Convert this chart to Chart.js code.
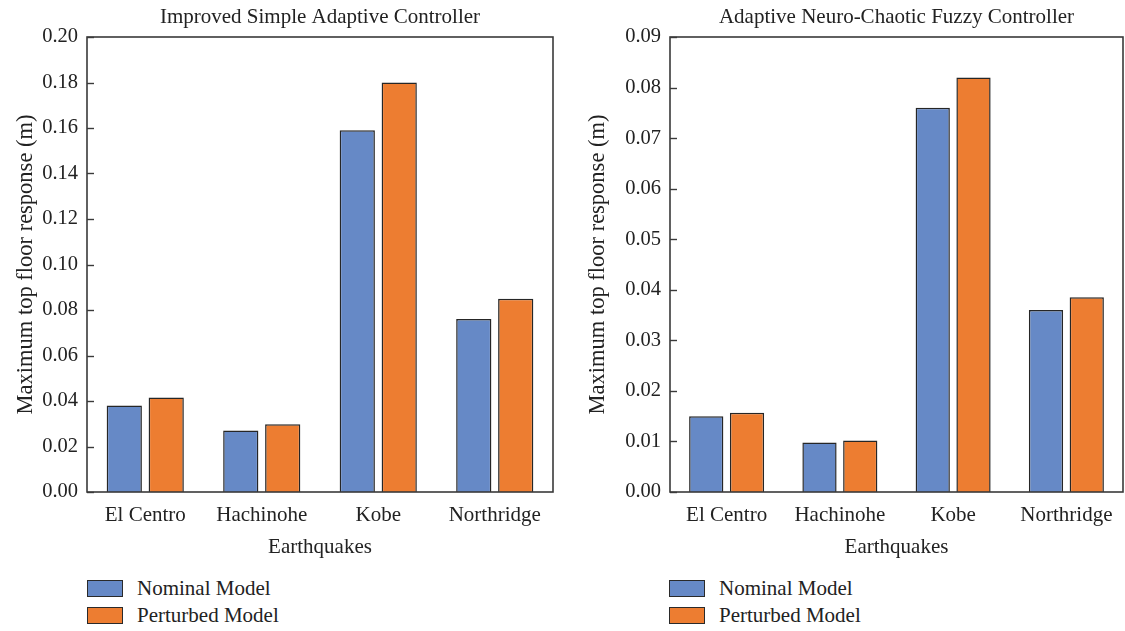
<!DOCTYPE html>
<html>
<head>
<meta charset="utf-8">
<script src="https://cdn.jsdelivr.net/npm/chart.js@4.4.1/dist/chart.umd.min.js"></script>
<style>
  html, body { margin: 0; padding: 0; background: #fff; width: 1125px; height: 631px; overflow: hidden; }
  .wrap { position: absolute; top: 0; height: 560px; }
  .legend { position: absolute; font-family: "Liberation Serif", "DejaVu Serif", serif; font-size: 21px; color: #222; }
  .legend .item { position: absolute; left: 0; white-space: nowrap; height: 20px; line-height: 20px; }
  .legend .box { position: absolute; left: 0; top: 2px; width: 34px; height: 15px; border: 1.5px solid #2a2a2a; }
  .legend .lbl { position: absolute; left: 50px; top: 0; }
</style>
</head>
<body>
<div class="wrap" style="left:0;width:560px;"><canvas id="c1" width="560" height="560"></canvas></div>
<div class="wrap" style="left:563px;width:562px;"><canvas id="c2" width="562" height="560"></canvas></div>
<div class="legend" id="lg1" style="left:87px;top:578px;"></div>
<div class="legend" id="lg2" style="left:669px;top:578px;"></div>
<script>
// ---- data ----
const categories = ["El Centro", "Hachinohe", "Kobe", "Northridge"];
const seriesNames = ["Nominal Model", "Perturbed Model"];
const isacNominal = [0.038, 0.027, 0.159, 0.076];
const isacPerturbed = [0.0415, 0.0298, 0.180, 0.085];
const ancfcNominal = [0.0150, 0.0098, 0.0760, 0.0360];
const ancfcPerturbed = [0.0157, 0.0102, 0.0820, 0.0385];
const titles = ["Improved Simple Adaptive Controller", "Adaptive Neuro-Chaotic Fuzzy Controller"];
const yAxisTitle = "Maximum top floor response (m)";
const xAxisTitle = "Earthquakes";
const yMaxes = [0.20, 0.09];
const ySteps = [0.02, 0.01];

const colors = ["#6689C6", "#ED7D31"];
const FONT = '"Liberation Serif", "DejaVu Serif", serif';
const TXT = "#222";

const framePlugin = {
  id: "frame",
  afterDatasetsDraw(chart, args, opts) {
    const ctx = chart.ctx, a = chart.chartArea;
    ctx.save();
    ctx.strokeStyle = "#3a3a3a";
    ctx.lineWidth = 1.6;
    ctx.strokeRect(a.left, a.top, a.right - a.left, a.bottom - a.top);
    const ys = chart.scales.y;
    ctx.lineWidth = 1.4;
    ys.ticks.forEach(t => {
      const py = Math.round(ys.getPixelForValue(t.value)) + 0.5;
      ctx.beginPath();
      ctx.moveTo(a.left, py);
      ctx.lineTo(a.left + 7, py);
      ctx.stroke();
    });
    ctx.restore();
  },
  afterDraw(chart, args, opts) {
    const ctx = chart.ctx, a = chart.chartArea;
    ctx.save();
    ctx.fillStyle = TXT;
    ctx.font = "21px " + FONT;
    ctx.textAlign = "center";
    ctx.textBaseline = "middle";
    ctx.fillText(opts.text, (a.left + a.right) / 2, 17);
    ctx.restore();
  }
};

function makeChart(id, idx, nominal, perturbed, yWidth, padRight, titlePad) {
  return new Chart(document.getElementById(id), {
    type: "bar",
    data: {
      labels: categories,
      datasets: [
        { label: seriesNames[0], data: nominal, backgroundColor: colors[0], borderColor: "#262626", borderWidth: 1.5 },
        { label: seriesNames[1], data: perturbed, backgroundColor: colors[1], borderColor: "#262626", borderWidth: 1.5 }
      ]
    },
    options: {
      responsive: false,
      animation: false,
      devicePixelRatio: 1,
      datasets: { bar: { categoryPercentage: 0.72, barPercentage: 0.84 } },
      layout: { padding: { top: 37, right: padRight, left: 0, bottom: 0 } },
      plugins: {
        legend: { display: false },
        tooltip: { enabled: false },
        title: { display: false },
        frame: { text: titles[idx] }
      },
      scales: {
        x: {
          grid: { display: false, drawTicks: false },
          border: { display: false },
          ticks: { color: TXT, font: { family: FONT, size: 21 }, padding: 11, maxRotation: 0 },
          title: { display: true, text: xAxisTitle, color: TXT, font: { family: FONT, size: 21 }, padding: { top: 2, bottom: 0 } },
          afterFit(s) { s.height = 68; }
        },
        y: {
          min: 0, max: yMaxes[idx],
          grid: { display: false, drawTicks: false },
          border: { display: false },
          ticks: { stepSize: ySteps[idx], color: TXT, font: { family: FONT, size: 20.5 }, padding: 9,
                   callback: v => Number(v).toFixed(2) },
          title: { display: true, text: yAxisTitle, color: TXT, font: { family: FONT, size: 22.5 }, padding: { top: titlePad, bottom: 0 } },
          afterFit(s) { s.width = yWidth; }
        }
      }
    },
    plugins: [framePlugin]
  });
}

const ch1 = makeChart("c1", 0, isacNominal, isacPerturbed, 87, 7, 13);
const ch2 = makeChart("c2", 1, ancfcNominal, ancfcPerturbed, 107, 2, 22);

function buildLegend(chart, elId) {
  const el = document.getElementById(elId);
  chart.data.datasets.forEach((ds, i) => {
    const item = document.createElement("div");
    item.className = "item";
    item.style.top = (i * 27) + "px";
    const box = document.createElement("span");
    box.className = "box";
    box.style.background = ds.backgroundColor;
    const lbl = document.createElement("span");
    lbl.className = "lbl";
    lbl.textContent = ds.label;
    item.appendChild(box);
    item.appendChild(lbl);
    el.appendChild(item);
  });
}
buildLegend(ch1, "lg1");
buildLegend(ch2, "lg2");
</script>
</body>
</html>
